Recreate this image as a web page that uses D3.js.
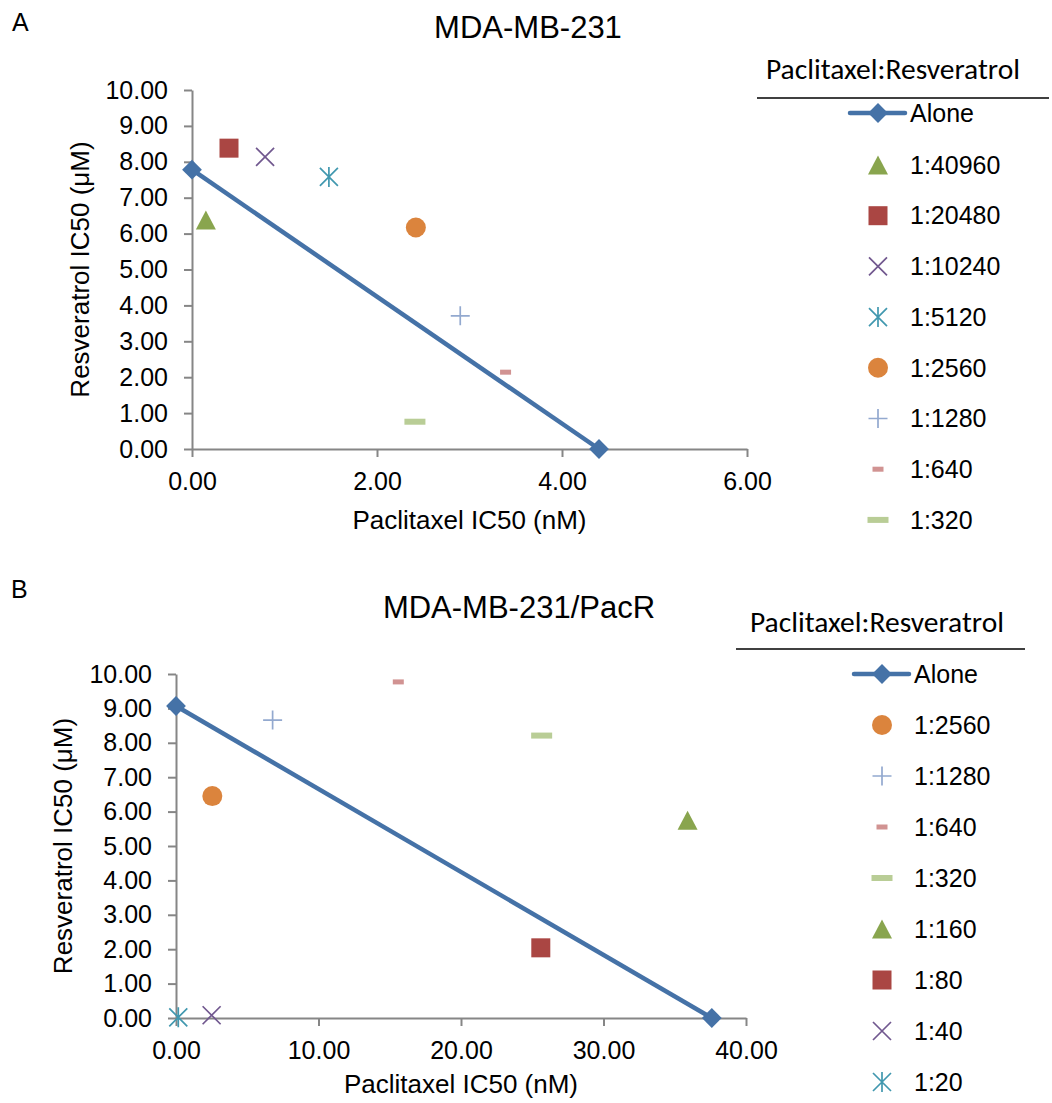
<!DOCTYPE html>
<html lang="en">
<head>
<meta charset="UTF-8">
<title>Paclitaxel / Resveratrol isobolograms</title>
<style>
    body { margin: 0; background: #FFFFFF; }
    svg { display: block; }
    .tick text { font-family: "Liberation Sans", Arial, sans-serif; font-size: 25px; fill: #000; }
    .tick line, .domain { stroke: #868686; stroke-width: 2; }
    .label { font-family: "Liberation Sans", Arial, sans-serif; fill: #000; }
    .legend-title { font-family: Carlito, Lato, sans-serif; font-size: 29.5px; fill: #000; }
</style>
</head>
<body>
<svg id="chart" width="1052" height="1103"></svg>
<script src="https://d3js.org/d3.v7.min.js"></script>
<script>
    // Panel A: MDA-MB-231
    const aAloneX = [0, 4.40];
    const aAloneY = [7.78, 0];
    const aRatios = ["1:40960", "1:20480", "1:10240", "1:5120", "1:2560", "1:1280", "1:640", "1:320"];
    const aPacIC50 = [0.15, 0.40, 0.79, 1.48, 2.42, 2.90, 3.39, 2.41];
    const aResIC50 = [6.38, 8.38, 8.14, 7.58, 6.17, 3.71, 2.14, 0.76];
    const aXTicks = [0, 2, 4, 6];

    // Panel B: MDA-MB-231/PacR
    const bAloneX = [0, 37.6];
    const bAloneY = [9.07, 0];
    const bRatios = ["1:2560", "1:1280", "1:640", "1:320", "1:160", "1:80", "1:40", "1:20"];
    const bPacIC50 = [2.55, 6.78, 15.6, 25.66, 35.9, 25.6, 2.5, 0.16];
    const bResIC50 = [6.45, 8.66, 9.77, 8.21, 5.75, 2.04, 0.08, 0.02];
    const bXTicks = [0, 10, 20, 30, 40];

    const yTicks = [0, 1, 2, 3, 4, 5, 6, 7, 8, 9, 10];

    // marker look per ratio
    const markerStyle = {
        "1:40960": { shape: "triangle", color: "#89A54E" },
        "1:20480": { shape: "square", color: "#AA4643" },
        "1:10240": { shape: "x", color: "#71588F" },
        "1:5120": { shape: "asterisk", color: "#4198AF" },
        "1:2560": { shape: "circle", color: "#DB843D" },
        "1:1280": { shape: "plus", color: "#93A9CF" },
        "1:640": { shape: "shortDash", color: "#D19392" },
        "1:320": { shape: "longDash", color: "#B9CD96" },
        "1:160": { shape: "triangle", color: "#89A54E" },
        "1:80": { shape: "square", color: "#AA4643" },
        "1:40": { shape: "x", color: "#71588F" },
        "1:20": { shape: "asterisk", color: "#4198AF" }
    };
    const lineColor = "#4572A7";

    const svg = d3.select("#chart");

    function drawMarker(g, shape, color, cx, cy) {
        const s = g.append("g").attr("transform", `translate(${cx},${cy})`);
        const stroke = (p) => s.append("path").attr("d", p)
            .attr("stroke", color).attr("stroke-width", 1.7).attr("fill", "none");
        if (shape === "triangle") {
            s.append("path").attr("d", "M0,-9.5L10,9.5L-10,9.5Z").attr("fill", color);
        } else if (shape === "square") {
            s.append("rect").attr("x", -9.5).attr("y", -9.5).attr("width", 19).attr("height", 19).attr("fill", color);
        } else if (shape === "circle") {
            s.append("circle").attr("r", 10).attr("fill", color);
        } else if (shape === "x") {
            stroke("M-9,-9L9,9M-9,9L9,-9");
        } else if (shape === "asterisk") {
            stroke("M-9,-9L9,9M-9,9L9,-9M0,-10L0,10");
        } else if (shape === "plus") {
            stroke("M-9.5,0L9.5,0M0,-9.5L0,9.5");
        } else if (shape === "shortDash") {
            s.append("rect").attr("x", -5.5).attr("y", -2.5).attr("width", 11).attr("height", 5).attr("fill", color);
        } else if (shape === "longDash") {
            s.append("rect").attr("x", -10.5).attr("y", -3).attr("width", 21).attr("height", 6).attr("fill", color);
        } else if (shape === "diamond") {
            s.append("rect").attr("x", -7).attr("y", -7).attr("width", 14).attr("height", 14)
                .attr("transform", "rotate(45)").attr("fill", color);
        }
    }

    function drawPanel(p) {
        const x = d3.scaleLinear().domain(p.xDomain).range([p.left, p.right]);
        const y = d3.scaleLinear().domain([0, 10]).range([p.bottom, p.top]);
        const g = svg.append("g");

        g.append("text").attr("class", "label")
            .attr("x", p.letterX).attr("y", p.letterY)
            .attr("font-size", 25).text(p.letter);

        g.append("text").attr("class", "label")
            .attr("x", p.titleX).attr("y", p.titleY)
            .attr("text-anchor", "middle").attr("font-size", 31).text(p.title);

        g.append("g").attr("transform", `translate(0,${p.bottom})`)
            .call(d3.axisBottom(x).tickValues(p.xTicks).tickFormat(d3.format(".2f"))
                .tickSizeInner(8).tickSizeOuter(0).tickPadding(15));

        g.append("g").attr("transform", `translate(${p.left},0)`)
            .call(d3.axisLeft(y).tickValues(yTicks).tickFormat(d3.format(".2f"))
                .tickSizeInner(8).tickSizeOuter(0).tickPadding(16));

        g.append("text").attr("class", "label")
            .attr("x", (p.left + p.right) / 2).attr("y", p.xTitleY)
            .attr("text-anchor", "middle").attr("font-size", 26).text("Paclitaxel IC50 (nM)");

        g.append("text").attr("class", "label")
            .attr("transform", `translate(${p.yTitleX},${(p.top + p.bottom) / 2}) rotate(-90)`)
            .attr("text-anchor", "middle").attr("font-size", 26).text("Resveratrol IC50 (\u03BCM)");

        // combination points
        p.ratios.forEach((r, i) => {
            const st = markerStyle[r];
            drawMarker(g, st.shape, st.color, x(p.pac[i]), y(p.res[i]));
        });

        // single-agent line
        const alone = p.aloneX.map((v, i) => [v, p.aloneY[i]]);
        g.append("path").datum(alone)
            .attr("d", d3.line().x(d => x(d[0])).y(d => y(d[1])))
            .attr("stroke", lineColor).attr("stroke-width", 4.5).attr("fill", "none");
        alone.forEach(d => drawMarker(g, "diamond", lineColor, x(d[0]), y(d[1])));

        // legend
        const lg = svg.append("g");
        lg.append("text").attr("class", "legend-title")
            .attr("x", p.legTitleX).attr("y", p.legTitleY)
            .attr("text-anchor", "middle").text("Paclitaxel:Resveratrol");
        lg.append("line")
            .attr("x1", p.ruleX1).attr("x2", p.ruleX2)
            .attr("y1", p.ruleY).attr("y2", p.ruleY)
            .attr("stroke", "#000").attr("stroke-width", 1.5);

        lg.append("line")
            .attr("x1", p.legMarkX - 28).attr("x2", p.legMarkX + 27)
            .attr("y1", p.aloneY0).attr("y2", p.aloneY0)
            .attr("stroke", lineColor).attr("stroke-width", 4.5).attr("stroke-linecap", "round");
        drawMarker(lg, "diamond", lineColor, p.legMarkX, p.aloneY0);
        lg.append("text").attr("class", "label")
            .attr("x", p.legMarkX + 32).attr("y", p.aloneY0).attr("dy", "0.35em")
            .attr("font-size", 25).text("Alone");

        p.ratios.forEach((r, i) => {
            const yy = p.legY0 + i * p.legStep;
            const st = markerStyle[r];
            drawMarker(lg, st.shape, st.color, p.legMarkX, yy);
            lg.append("text").attr("class", "label")
                .attr("x", p.legMarkX + 32).attr("y", yy).attr("dy", "0.35em")
                .attr("font-size", 25).text(r);
        });
    }

    drawPanel({
        letter: "A", letterX: 12, letterY: 31,
        title: "MDA-MB-231", titleX: 528, titleY: 38,
        xDomain: [0, 6], xTicks: aXTicks,
        left: 192, right: 747, top: 90, bottom: 449,
        xTitleY: 529, yTitleX: 89,
        aloneX: aAloneX, aloneY: aAloneY,
        ratios: aRatios, pac: aPacIC50, res: aResIC50,
        legTitleX: 893, legTitleY: 79, ruleX1: 757, ruleX2: 1049, ruleY: 98,
        legMarkX: 878, aloneY0: 113, legY0: 165, legStep: 50.7
    });

    drawPanel({
        letter: "B", letterX: 11, letterY: 598,
        title: "MDA-MB-231/PacR", titleX: 519, titleY: 618,
        xDomain: [0, 40], xTicks: bXTicks,
        left: 176, right: 746, top: 674, bottom: 1018,
        xTitleY: 1093, yTitleX: 72,
        aloneX: bAloneX, aloneY: bAloneY,
        ratios: bRatios, pac: bPacIC50, res: bResIC50,
        legTitleX: 877, legTitleY: 632, ruleX1: 736, ruleX2: 1025, ruleY: 649,
        legMarkX: 882, aloneY0: 674, legY0: 725, legStep: 51
    });
</script>
</body>
</html>
